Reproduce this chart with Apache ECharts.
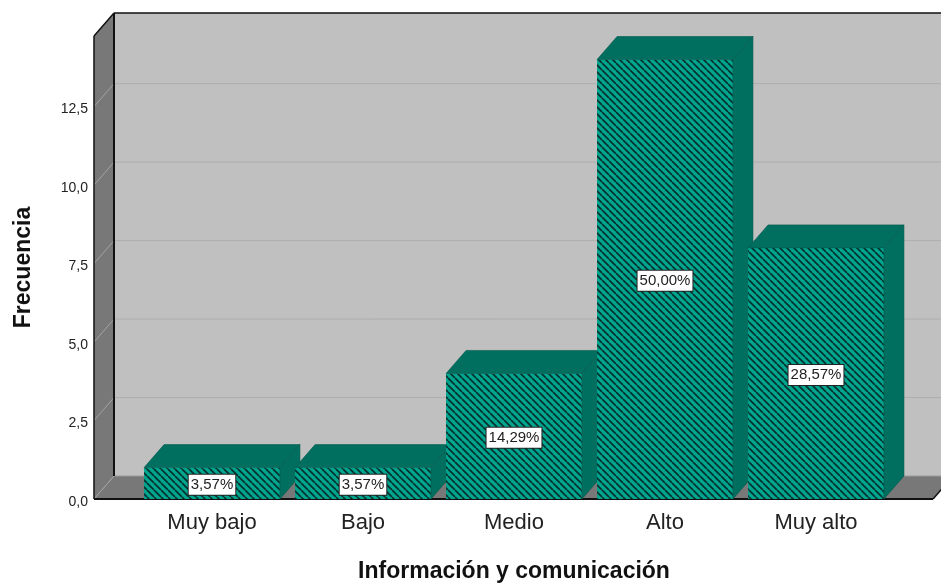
<!DOCTYPE html>
<html>
<head>
<meta charset="utf-8">
<script src="https://cdn.jsdelivr.net/npm/echarts@6/dist/echarts.min.js"></script>
<style>html,body{margin:0;padding:0;background:#fff}#c{width:941px;height:583px}</style>
</head>
<body>
<div id="c"></div>
<script>
const categories = ['Muy bajo', 'Bajo', 'Medio', 'Alto', 'Muy alto'];
const frequencies = [1, 1, 4, 14, 8];
const percentLabels = ['3,57%', '3,57%', '14,29%', '50,00%', '28,57%'];
const yTicks = [0, 2.5, 5, 7.5, 10, 12.5];

// Depth of the 3D box, and how far the value axis sits left of the category band
const DX = 20, DY = -23, AXIS_OFFSET = 42.5, FLOOR_EXTRA = 41.5;

// Diagonal hatch for the front faces of the bars
function hatch() {
  const s = 7, c = document.createElement('canvas');
  c.width = c.height = s;
  const g = c.getContext('2d');
  g.fillStyle = '#00A58F';
  g.fillRect(0, 0, s, s);
  g.strokeStyle = '#04312C';
  g.lineWidth = 1.7;
  g.beginPath();
  for (let o = -s; o <= s; o += s) { g.moveTo(o, 0); g.lineTo(o + s, s); }
  g.stroke();
  return c;
}
const hatchFill = { image: hatch(), repeat: 'repeat' };

function line(x1, y1, x2, y2, stroke, lineWidth) {
  return { type: 'line', shape: { x1, y1, x2, y2 }, style: { stroke, lineWidth }, silent: true };
}
function poly(points, fill, stroke) {
  return { type: 'polygon', shape: { points }, style: { fill, stroke: stroke || fill, lineWidth: stroke ? 0.6 : 0 }, silent: true };
}

// Back wall, side wall, floor and the grid lines running over them
function renderBox(params, api) {
  const r = params.coordSys;
  const L = r.x - AXIS_OFFSET, B = r.y + r.height, T = r.y, R = r.x + r.width + FLOOR_EXTRA;
  const kids = [
    poly([[L + DX, T + DY], [R + DX, T + DY], [R + DX, B + DY], [L + DX, B + DY]], '#C0C0C0'),
    poly([[L, T], [L + DX, T + DY], [L + DX, B + DY], [L, B]], '#787878'),
    poly([[L, B], [L + DX, B + DY], [R + DX, B + DY], [R, B]], '#787878')
  ];
  yTicks.forEach(function (t) {
    const y = api.coord([0, t])[1];
    if (t > 0) kids.push(line(L + DX, y + DY, R + DX, y + DY, '#AEAEAE', 1));
    kids.push(line(L, y, L + DX, y + DY, '#A3A3A3', 1));
  });
  kids.push(line(L + DX, B + DY, R + DX, B + DY, '#9A9A9A', 1));
  kids.push(line(L + DX, T + DY, R + DX, T + DY, '#111', 1.5));
  kids.push(line(L + DX, T + DY, L + DX, B + DY, '#111', 2));
  kids.push(line(L, T, L, B, '#111', 1.5));
  kids.push(line(L, T, L + DX, T + DY, '#111', 1.5));
  kids.push(line(L, B, R, B, '#111', 2));
  kids.push(line(R, B, R + DX, B + DY, '#111', 1.5));
  return { type: 'group', children: kids };
}

// One extruded bar with its percentage tag on the front face
function renderBar(params, api) {
  const c = api.coord([api.value(0), api.value(1)]);
  const base = api.coord([api.value(0), 0])[1];
  const w = api.size([1, 0])[0] * 0.9;
  const x = c[0] - w / 2, y = c[1];
  return {
    type: 'group',
    children: [
      { type: 'rect', shape: { x, y, width: w, height: base - y }, style: { fill: hatchFill }, silent: true },
      poly([[x, y], [x + DX, y + DY], [x + w + DX, y + DY], [x + w, y]], '#006F5F', '#00594C'),
      poly([[x + w, y], [x + w + DX, y + DY], [x + w + DX, base + DY], [x + w, base]], '#006F5F', '#00594C'),
      {
        type: 'text', x: c[0], y: (y + base) / 2 + 1.5, silent: true,
        style: {
          text: percentLabels[params.dataIndex],
          font: '15px "Liberation Sans", Arial, sans-serif',
          fill: '#222', align: 'center', verticalAlign: 'middle',
          backgroundColor: '#fff', borderColor: '#222', borderWidth: 1, padding: [3, 2, 2, 2]
        }
      }
    ]
  };
}

const chart = echarts.init(document.getElementById('c'), null, { renderer: 'canvas' });
chart.setOption({
  animation: false,
  backgroundColor: '#fff',
  grid: { left: 136.5, width: 755, top: 36, height: 463, outerBoundsMode: 'none' },
  xAxis: {
    type: 'category',
    data: categories,
    axisLine: { show: false },
    axisTick: { show: false },
    axisLabel: { color: '#222', fontFamily: 'Liberation Sans', fontSize: 22, margin: 13 },
    name: 'Información y comunicación',
    nameLocation: 'middle',
    nameGap: 61,
    nameTextStyle: { color: '#111', fontFamily: 'Liberation Sans', fontWeight: 'bold', fontSize: 23 }
  },
  yAxis: {
    type: 'value',
    min: 0,
    max: 14.75,
    interval: 2.5,
    offset: AXIS_OFFSET,
    splitLine: { show: false },
    axisLine: { show: false },
    axisTick: { show: false },
    axisLabel: {
      color: '#222', fontFamily: 'Liberation Sans', fontSize: 14, margin: 6, showMaxLabel: false,
      verticalAlign: 'top', lineHeight: 6,
      formatter: function (v) { return v.toFixed(1).replace('.', ','); }
    },
    name: 'Frecuencia',
    nameLocation: 'middle',
    nameGap: 59,
    nameTextStyle: { color: '#111', fontFamily: 'Liberation Sans', fontWeight: 'bold', fontSize: 23 }
  },
  series: [
    { type: 'custom', renderItem: renderBox, data: [[0, 0]], clip: false, silent: true, z: 1 },
    { type: 'custom', renderItem: renderBar, data: frequencies.map(function (v, i) { return [i, v]; }), clip: false, silent: true, z: 2, encode: { x: 0, y: 1 } }
  ]
});
</script>
</body>
</html>
